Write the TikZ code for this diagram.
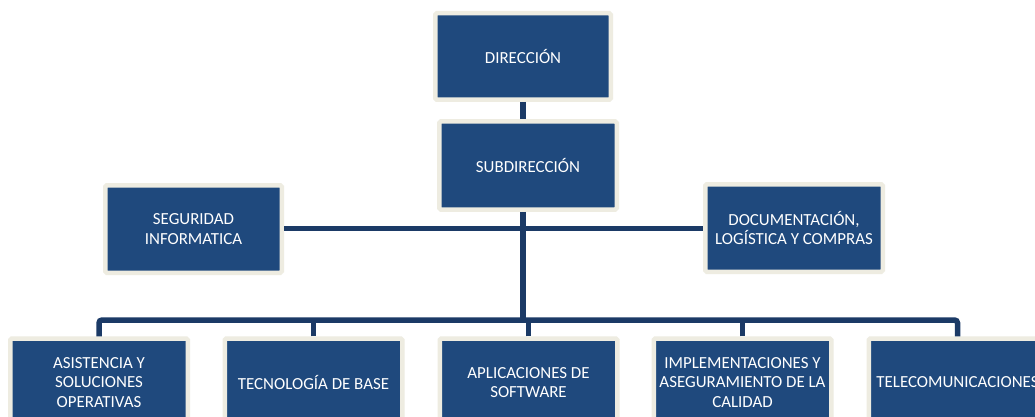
\documentclass[tikz,border=0pt]{standalone}
\usepackage{fontspec}
\setmainfont{Carlito}
\definecolor{boxblue}{HTML}{1F497D}
\definecolor{boxrim}{HTML}{EEECE1}
\definecolor{linkblue}{HTML}{1B3A66}
\begin{document}
\begin{tikzpicture}[x=1pt,y=-1pt,
  unit/.style={draw=boxrim, fill=boxblue, line width=4.5pt, rounded corners=1.5pt,
    minimum width=177.5pt, minimum height=88pt, inner sep=0pt,
    text=white, align=center, font=\fontsize{16.9}{19.2}\selectfont},
  link/.style={draw=linkblue, line width=5.5pt}]
\useasboundingbox (0,0) rectangle (1035,417);
\clip (0,0) rectangle (1035,417);
\fill[white] (0,0) rectangle (1035,417);
% nodes
\node[unit, minimum width=175.5pt, minimum height=86.5pt] (dir) at (523,56.5) {DIRECCIÓN};
\node[unit] (sub) at (528,165.5) {SUBDIRECCIÓN};
\node[unit, minimum width=176.5pt, minimum height=87.5pt] (seg) at (193.5,229) {SEGURIDAD\\INFORMATICA};
\node[unit, minimum height=87.5pt] (doc) at (794,228) {DOCUMENTACIÓN,\\LOGÍSTICA Y COMPRAS};
\node[unit] (b1) at (99,382.5) {ASISTENCIA Y\\SOLUCIONES\\OPERATIVAS};
\node[unit] (b2) at (313.5,382.5) {TECNOLOGÍA DE BASE};
\node[unit] (b3) at (528.5,382.5) {APLICACIONES DE\\SOFTWARE};
\node[unit] (b4) at (742.5,382.5) {IMPLEMENTACIONES Y\\ASEGURAMIENTO DE LA\\CALIDAD};
\node[unit] (b5) at (957.5,382.5) {TELECOMUNICACIONES};
\coordinate (bus) at (0,320);
% connectors
\draw[link] (dir.south) -- (dir.south |- sub.north);
\draw[link] (seg.east |- 0,228.5) -- (doc.west |- 0,228.5);
\draw[link] ([xshift=-5pt]sub.south) -- ([xshift=-5pt]sub.south |- bus);
\draw[link, rounded corners=3pt] (b1.north) -- (b1.north |- bus) -- (b5.north |- bus) -- (b5.north);
\draw[link] (b2.north) -- (b2.north |- bus);
\draw[link] (b3.north) -- (b3.north |- bus);
\draw[link] (b4.north) -- (b4.north |- bus);
\end{tikzpicture}
\end{document}
